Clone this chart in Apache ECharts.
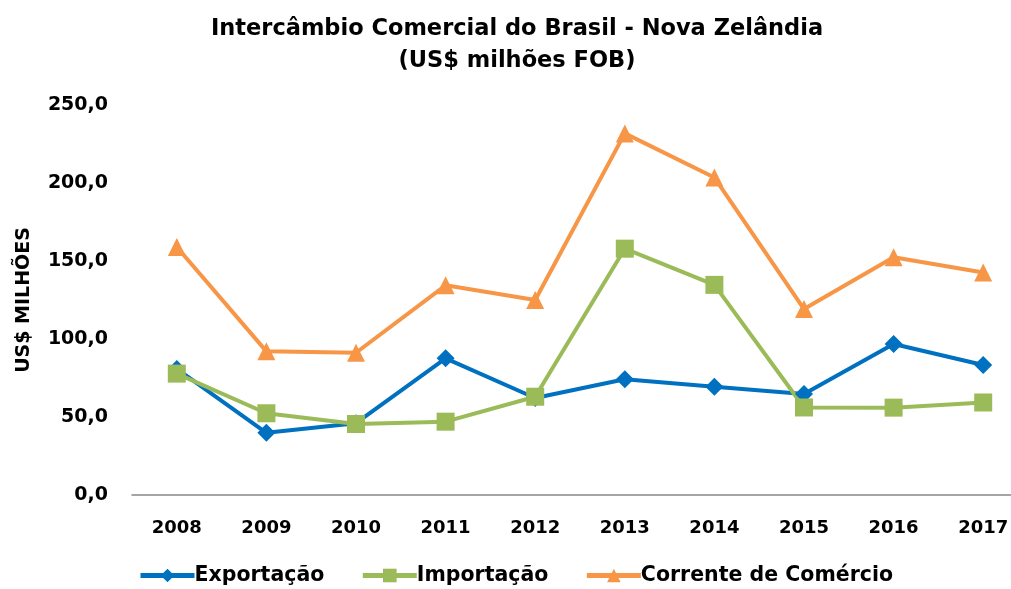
<!DOCTYPE html>
<html>
<head>
<meta charset="utf-8">
<script src="https://cdn.jsdelivr.net/npm/echarts@6/dist/echarts.min.js"></script>
<style>
html,body{margin:0;padding:0;background:#fff;}
#chart{width:1011px;height:589px;}
</style>
</head>
<body>
<div id="chart"></div>
<script>
const categories = ['2008','2009','2010','2011','2012','2013','2014','2015','2016','2017'];
const exportacao = [80.8, 39.9, 46.0, 87.6, 62.2, 74.2, 69.4, 64.7, 96.8, 83.3];
const importacao = [77.8, 52.4, 45.5, 47.0, 63.0, 157.9, 134.7, 56.1, 56.0, 59.3];
const corrente = [159.0, 92.1, 91.2, 134.4, 125.0, 231.8, 203.5, 119.2, 152.4, 142.6];
const seriesNames = ['Exportação', 'Importação', 'Corrente de Comércio'];

const FONT = 'DejaVu Sans';
const chart = echarts.init(document.getElementById('chart'), null, {renderer: 'canvas'});

function lineSeries(name, data, color, symbol, size) {
  return {
    name: name, type: 'line', data: data,
    symbol: symbol, symbolSize: size,
    lineStyle: {color: color, width: 4},
    itemStyle: {color: color},
    emphasis: {disabled: true},
    animation: false
  };
}

chart.setOption({
  animation: false,
  backgroundColor: '#ffffff',
  title: {
    text: 'Intercâmbio Comercial do Brasil - Nova Zelândia\n(US$ milhões FOB)',
    left: 512, top: 8, textAlign: 'center',
    textStyle: {fontFamily: FONT, fontWeight: 'bold', fontSize: 22.5, color: '#000', lineHeight: 32}
  },
  legend: {
    data: seriesNames,
    left: 138, top: 565, padding: 0,
    itemWidth: 54, itemHeight: 17, itemGap: 36,
    lineStyle: {width: 5},
    textStyle: {fontFamily: FONT, fontWeight: 'bold', fontSize: 20.5, color: '#000', padding: [0,0,0,-5]}
  },
  grid: {left: 132, width: 896, top: 105, height: 390, containLabel: false, outerBoundsMode: 'none'},
  xAxis: {
    type: 'category', data: categories, boundaryGap: true,
    axisLine: {show: true, lineStyle: {color: '#888', width: 1.5}},
    axisTick: {show: false},
    axisLabel: {fontFamily: FONT, fontWeight: 'bold', fontSize: 18, color: '#000', margin: 24}
  },
  yAxis: {
    type: 'value', min: 0, max: 250, interval: 50,
    name: 'US$ MILHÕES', nameLocation: 'middle', nameGap: 98, nameRotate: 90,
    nameTextStyle: {fontFamily: FONT, fontWeight: 'bold', fontSize: 19, color: '#000'},
    axisLine: {show: false}, axisTick: {show: false},
    splitLine: {show: false},
    axisLabel: {fontFamily: FONT, fontWeight: 'bold', fontSize: 19, color: '#000', margin: 24,
      padding: [5, 0, 0, 0],
      formatter: v => v.toFixed(1).replace('.', ',')}
  },
  series: [
    lineSeries(seriesNames[0], exportacao, '#0070C0', 'diamond', 18),
    lineSeries(seriesNames[1], importacao, '#9BBB59', 'rect', 18),
    lineSeries(seriesNames[2], corrente, '#F79646', 'triangle', 18)
  ]
});
</script>
</body>
</html>
